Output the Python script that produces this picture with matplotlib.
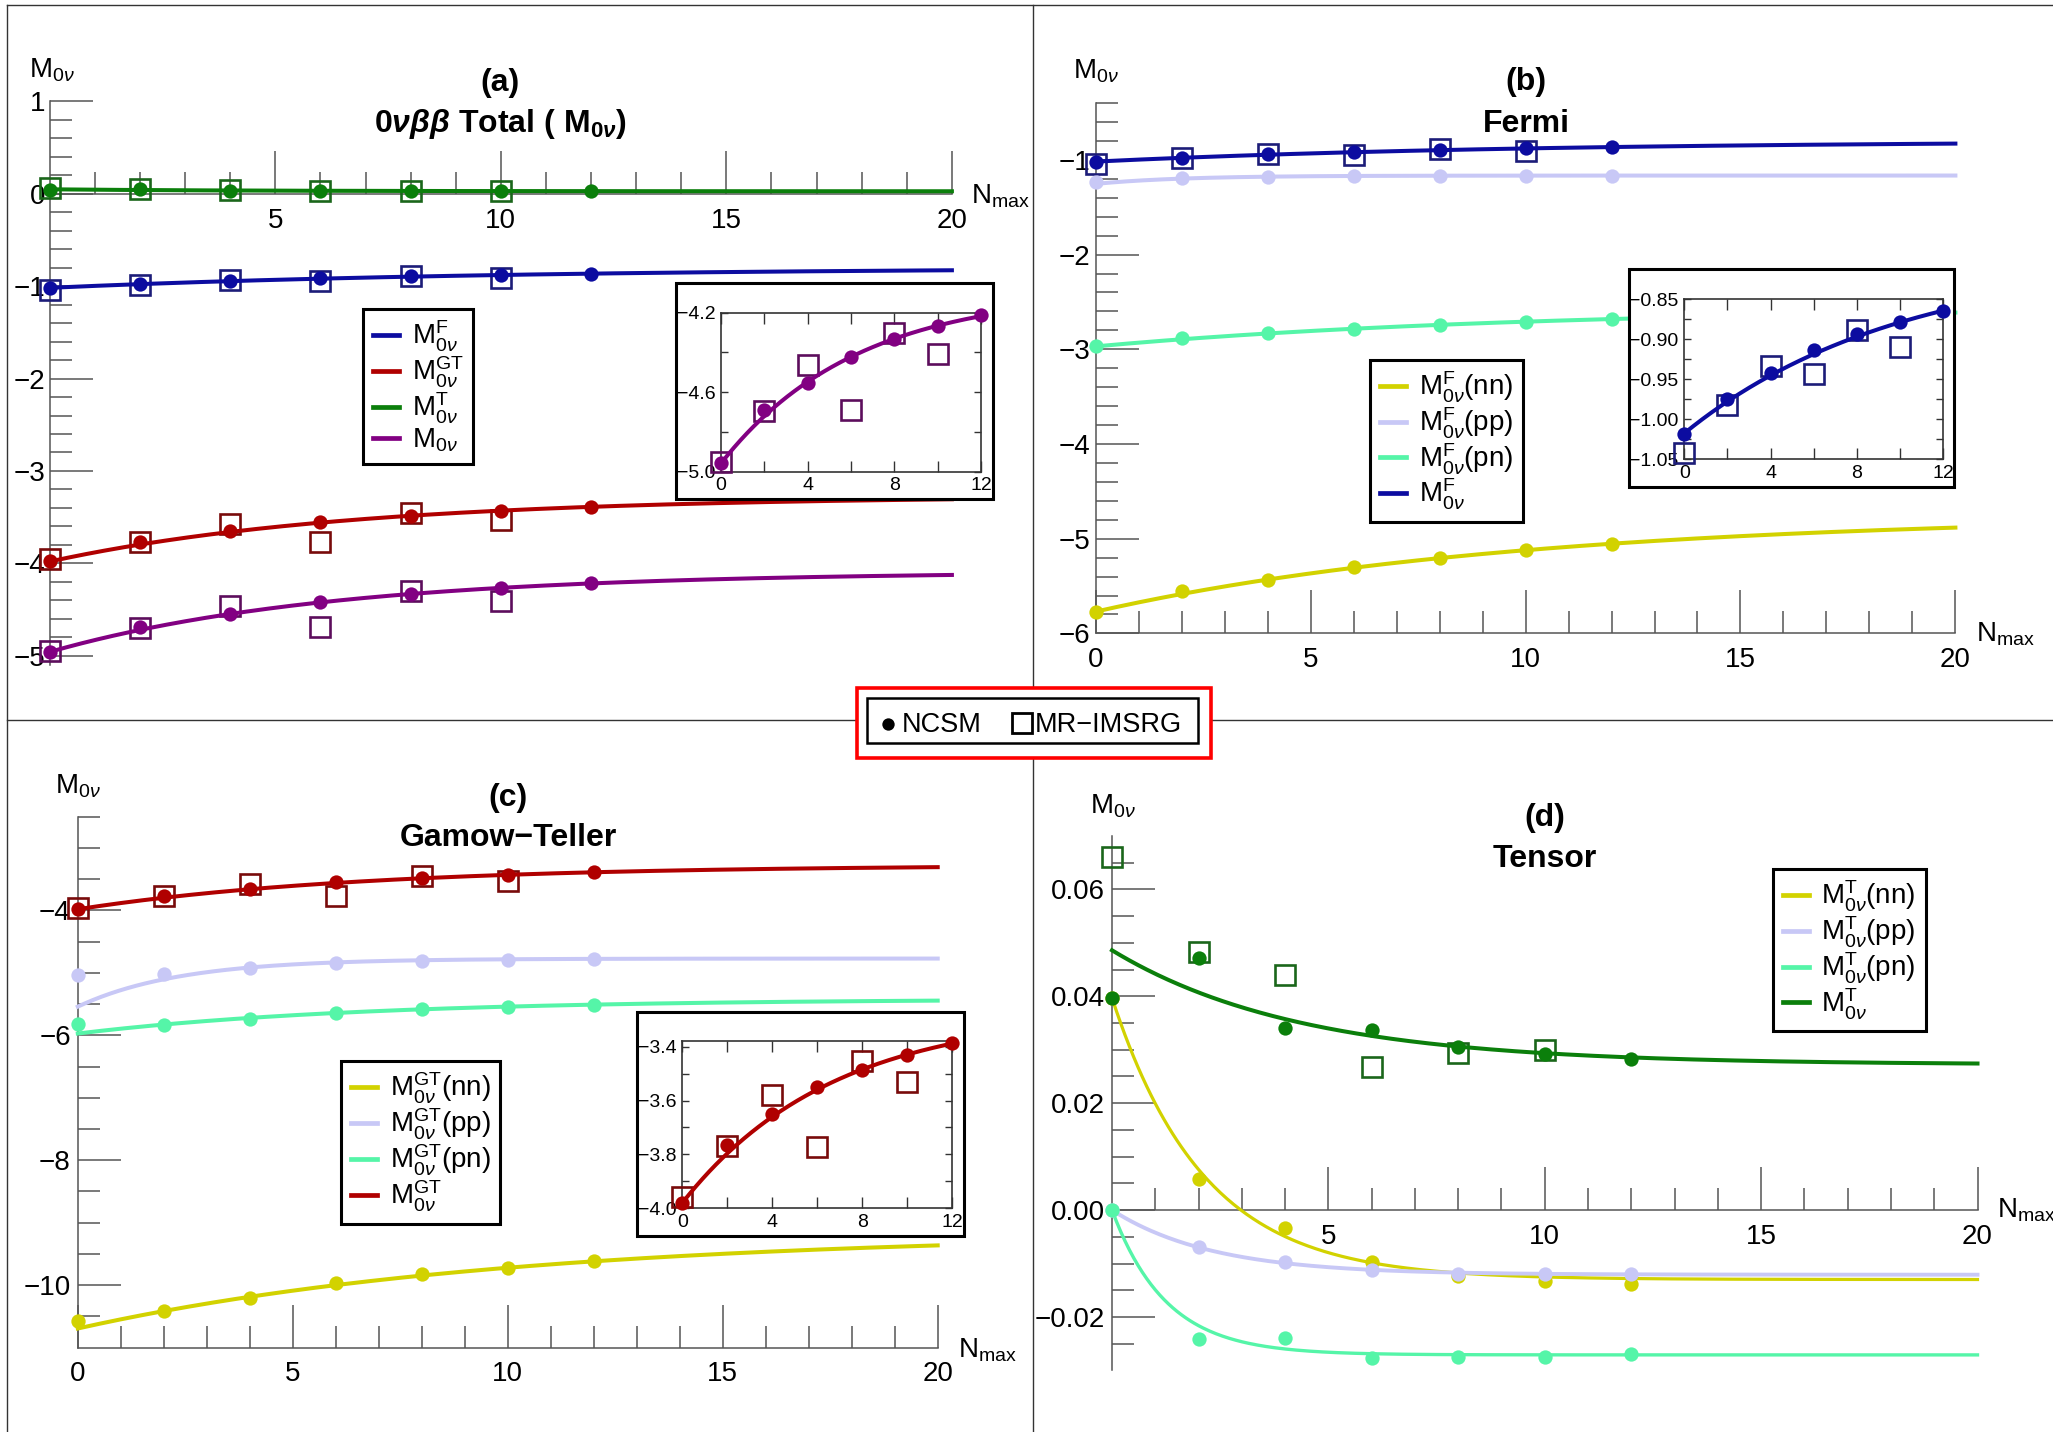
import numpy as np
import matplotlib
matplotlib.use("Agg")
import matplotlib.pyplot as plt
from matplotlib.lines import Line2D
from matplotlib.patches import Rectangle
from matplotlib.ticker import FixedLocator, FixedFormatter

plt.rcParams['font.family'] = ['Liberation Sans', 'DejaVu Sans']
plt.rcParams['mathtext.fontset'] = 'custom'
plt.rcParams['mathtext.rm'] = 'Liberation Sans'
plt.rcParams['mathtext.it'] = 'Liberation Sans:italic'
plt.rcParams['mathtext.bf'] = 'Liberation Sans:bold'
plt.rcParams['mathtext.bfit'] = 'Liberation Sans:italic:bold'

W, H = 2053, 1432

# ---------------- data ----------------
n_ncsm = [0, 2, 4, 6, 8, 10, 12]
n_imsrg = [0, 2, 4, 6, 8, 10]

# Fermi
f_nn = [-5.778, -5.556, -5.431, -5.298, -5.200, -5.120, -5.053]
f_pp = [-1.235, -1.190, -1.180, -1.175, -1.175, -1.175, -1.175]
f_pn = [-2.969, -2.880, -2.831, -2.782, -2.738, -2.707, -2.680]
f_tot = [-1.018, -0.975, -0.942, -0.913, -0.893, -0.878, -0.864]
f_tot_mr = [-1.042, -0.982, -0.933, -0.944, -0.888, -0.910]

# Gamow-Teller
gt_nn = [-10.576, -10.420, -10.208, -9.972, -9.826, -9.722, -9.618]
gt_pp = [-5.035, -5.020, -4.917, -4.847, -4.813, -4.790, -4.785]
gt_pn = [-5.820, -5.833, -5.736, -5.639, -5.583, -5.540, -5.507]
gt_tot = [-3.979, -3.766, -3.651, -3.551, -3.487, -3.431, -3.388]
gt_tot_mr = [-3.957, -3.769, -3.579, -3.774, -3.452, -3.530]

# Tensor
t_nn = [0.0397, 0.0058, -0.0034, -0.0097, -0.0123, -0.0133, -0.0139]
t_pp = [0.0, -0.0069, -0.0098, -0.0112, -0.0120, -0.0120, -0.0120]
t_pn = [0.0, -0.0242, -0.0239, -0.0276, -0.0274, -0.0274, -0.0270]
t_tot = [0.0397, 0.0472, 0.0341, 0.0337, 0.0305, 0.0292, 0.0282]
t_tot_mr = [0.0660, 0.0483, 0.0440, 0.0267, 0.0293, 0.0300]

# Total
m_tot = [-4.958, -4.688, -4.553, -4.421, -4.333, -4.269, -4.212]
m_tot_mr = [-4.949, -4.696, -4.463, -4.691, -4.300, -4.406]

# Extrapolation fits  M(N) = a + b * exp(-c N)   -> (a, b, c)
fit_f_nn = (-4.744, -1.026, 0.10)
fit_f_pp = (-1.165, -0.088, 0.50)
fit_f_pn = (-2.556, -0.413, 0.10)
fit_f_tot = (-0.798, -0.2195, 0.10)
fit_gt_nn = (-9.155, -1.539, 0.10)
fit_gt_pp = (-4.770, -0.770, 0.42)
fit_gt_pn = (-5.416, -0.5545, 0.15)
fit_gt_tot = (-3.271, -0.709, 0.15)
fit_t_nn = (-0.0130, 0.0527, 0.47)
fit_t_pp = (-0.0121, 0.0121, 0.43)
fit_t_pn = (-0.0271, 0.0271, 0.80)
fit_t_tot = (0.0272, 0.0214, 0.23)
fit_m_tot = (-4.090, -0.868, 0.16)

# ---------------- style ----------------
C_F, E_F = '#0c0ca0', '#1c1c78'
C_GT, E_GT = '#b00000', '#780a0a'
C_T, E_T = '#0b7f0b', '#1a661a'
C_TOT, E_TOT = '#820082', '#5c0d5c'
C_NN = '#d2d200'
C_PP = '#c8c8f6'
C_PN = '#55f5a8'
AX_C = '#555555'

fig = plt.figure(figsize=(W / 100, H / 100), dpi=100)


def rect_px(x0, x1, ytop, ybot):
    return [x0 / W, 1 - ybot / H, (x1 - x0) / W, (ybot - ytop) / H]


def fx(x):
    return x / W


def fy(y):
    return 1 - y / H


def fit_curve(p, n):
    a, b, c = p
    return a + b * np.exp(-c * n)


def series(ax, pts, color, fit, mr=None, mr_edge=None, nmax=20, lw=2.9, ms=10.3, sq=14.0):
    n = np.linspace(0, nmax, 400)
    if mr is not None:
        ax.plot(n_imsrg, mr, ls='none', marker='s', ms=sq, mfc='none',
                mec=mr_edge, mew=1.9, clip_on=False, zorder=3)
    ax.plot(n, fit_curve(fit, n), color=color, lw=lw, zorder=4, clip_on=False)
    ax.plot(n_ncsm, pts, ls='none', marker='o', ms=ms, mfc=color, mec=color,
            mew=0, clip_on=False, zorder=5)


def fmt_num(v, nd):
    s = f"{v:.{nd}f}"
    return s.replace('-', '\u2212')


def main_axes(rect, ylim, xaxis_y, ymaj, ymin, ynd, xmaj, xmin, ypad=4, xpad=10):
    ax = fig.add_axes(rect)
    ax.patch.set_visible(False)
    ax.set_xlim(0, 20)
    ax.set_ylim(*ylim)
    ax.spines['top'].set_visible(False)
    ax.spines['right'].set_visible(False)
    ax.spines['left'].set_position(('data', 0))
    ax.spines['bottom'].set_position(('data', xaxis_y))
    for s in ('left', 'bottom'):
        ax.spines[s].set_color(AX_C)
        ax.spines[s].set_linewidth(1.1)
    ax.yaxis.set_major_locator(FixedLocator(ymaj))
    ax.yaxis.set_minor_locator(FixedLocator(ymin))
    ax.yaxis.set_major_formatter(FixedFormatter([fmt_num(v, ynd) for v in ymaj]))
    ax.xaxis.set_major_locator(FixedLocator(xmaj))
    ax.xaxis.set_minor_locator(FixedLocator(xmin))
    ax.xaxis.set_major_formatter(FixedFormatter([str(v) for v in xmaj]))
    ax.tick_params(which='both', direction='in', color=AX_C, width=1.1,
                   labelsize=20, labelcolor='black')
    ax.tick_params(which='major', length=31)
    ax.tick_params(which='minor', length=15.5)
    ax.tick_params(axis='y', pad=ypad)
    ax.tick_params(axis='x', pad=xpad)
    return ax


def inset_axes(rect, box, ylim, ymaj, ymin, ynd):
    bx0, bx1, by0, by1 = box
    fig.add_artist(Rectangle((fx(bx0), fy(by1)), (bx1 - bx0) / W, (by1 - by0) / H,
                             transform=fig.transFigure, facecolor='white',
                             edgecolor='black', lw=2.2, zorder=1))
    ax = fig.add_axes(rect)
    ax.set_zorder(2)
    ax.set_xlim(0, 12)
    ax.set_ylim(*ylim)
    for s in ax.spines.values():
        s.set_color('#333333')
        s.set_linewidth(1.2)
    ax.xaxis.set_major_locator(FixedLocator([0, 4, 8, 12]))
    ax.xaxis.set_minor_locator(FixedLocator([2, 6, 10]))
    ax.yaxis.set_major_locator(FixedLocator(ymaj))
    ax.yaxis.set_minor_locator(FixedLocator(ymin))
    ax.yaxis.set_major_formatter(FixedFormatter([fmt_num(v, ynd) for v in ymaj]))
    ax.tick_params(which='both', direction='in', top=True, right=True,
                   color='#333333', width=1.0, labelsize=14)
    ax.tick_params(axis='x', which='both', length=8, pad=4)
    ax.tick_params(axis='y', which='both', length=5, pad=4)
    return ax


def legend(entries, left, top):
    handles = [Line2D([], [], color=c, lw=3.4) for c, _ in entries]
    labels = [l for _, l in entries]
    leg = fig.legend(handles, labels, loc='upper left',
                     bbox_to_anchor=(fx(left), fy(top)), bbox_transform=fig.transFigure,
                     frameon=True, fancybox=False, edgecolor='black', framealpha=1,
                     fontsize=20, handlelength=0.95, handletextpad=0.45,
                     borderpad=0.35, labelspacing=0.02, borderaxespad=0)
    leg.get_frame().set_linewidth(2.2)
    return leg


def axis_labels(xc, yb, nx, ny):
    fig.text(fx(xc), fy(yb), r'M$_{0\nu}$', ha='center', va='baseline', fontsize=20)
    fig.text(fx(nx), fy(ny), r'N$_{\rm max}$', ha='left', va='baseline', fontsize=20)


def titles(xc, y1, t1, y2, t2):
    fig.text(fx(xc), fy(y1), t1, ha='center', va='baseline', fontsize=23, fontweight='bold')
    fig.text(fx(xc), fy(y2), t2, ha='center', va='baseline', fontsize=23, fontweight='bold')


minors_x = [i for i in range(1, 20) if i % 5]

# ---------------- frame lines ----------------
for xs, ys in (([7, 7], [5, H]), ([7, W], [5, 5]), ([1033, 1033], [5, H]), ([7, W], [720, 720])):
    fig.add_artist(Line2D([fx(x) for x in xs], [fy(y) for y in ys],
                          transform=fig.transFigure, color='#333333', lw=1.0, zorder=0))

# ---------------- (a) total ----------------
ymin_a = [round(v, 1) for v in np.arange(-5.0, 1.0, 0.2) if abs(v - round(v)) > 1e-6]
ax = main_axes(rect_px(49.8, 951.9, 101.4, 665.0), (-5.1, 1.0), 0,
               list(range(-5, 2)), ymin_a, 0, [5, 10, 15, 20], minors_x, ypad=3)
series(ax, f_tot, C_F, fit_f_tot, f_tot_mr, E_F)
series(ax, gt_tot, C_GT, fit_gt_tot, gt_tot_mr, E_GT)
series(ax, t_tot, C_T, fit_t_tot, t_tot_mr, E_T)
series(ax, m_tot, C_TOT, fit_m_tot, m_tot_mr, E_TOT)
axis_labels(52, 77, 971, 204)
titles(500, 91, '(a)', 131.7,
       r'$\mathbf{0}\mathbfit{\nu\beta\beta}\ \mathbf{Total\ (\ M}_{\mathbf{0}\mathbfit{\nu}}\mathbf{)}$')
legend([(C_F, r'M$^{\rm F}_{0\nu}$'), (C_GT, r'M$^{\rm GT}_{0\nu}$'),
        (C_T, r'M$^{\rm T}_{0\nu}$'), (C_TOT, r'M$_{0\nu}$')], 363, 309.3)

ia = inset_axes(rect_px(721, 981, 312.7, 471.7), (676, 992.7, 282.7, 499.3),
                (-5.0, -4.2), [-5.0, -4.6, -4.2], [-4.8, -4.4], 1)
series(ia, m_tot, C_TOT, fit_m_tot, m_tot_mr, E_TOT, nmax=12)

# ---------------- (b) Fermi ----------------
ymin_b = [round(v, 1) for v in np.arange(-6.0, -0.3, 0.2) if abs(v - round(v)) > 1e-6]
bx = main_axes(rect_px(1095.7, 1955.4, 103.1, 633.4), (-6.0, -0.4), -6.0,
               list(range(-6, 0)), ymin_b, 0, [0, 5, 10, 15, 20], minors_x, ypad=4)
series(bx, f_nn, C_NN, fit_f_nn)
series(bx, f_pp, C_PP, fit_f_pp)
series(bx, f_pn, C_PN, fit_f_pn)
series(bx, f_tot, C_F, fit_f_tot, f_tot_mr, E_F)
axis_labels(1096, 78.7, 1976, 642)
titles(1526, 90, '(b)', 132, 'Fermi')
legend([(C_NN, r'M$^{\rm F}_{0\nu}$(nn)'), (C_PP, r'M$^{\rm F}_{0\nu}$(pp)'),
        (C_PN, r'M$^{\rm F}_{0\nu}$(pn)'), (C_F, r'M$^{\rm F}_{0\nu}$')], 1370, 359.9)

ib = inset_axes(rect_px(1684.3, 1943.3, 299.3, 459.3), (1629.3, 1954.3, 269.3, 486.7),
                (-1.05, -0.85), [-1.05, -1.00, -0.95, -0.90, -0.85],
                [-1.025, -0.975, -0.925, -0.875], 2)
series(ib, f_tot, C_F, fit_f_tot, f_tot_mr, E_F, nmax=12)

# ---------------- (c) Gamow-Teller ----------------
ymin_c = [v for v in np.arange(-10.5, -2.4, 0.5) if abs(v / 2 - round(v / 2)) > 1e-6]
cx = main_axes(rect_px(77.8, 937.7, 816.8, 1347.6), (-11.0, -2.5), -11.0,
               [-10, -8, -6, -4], ymin_c, 0, [0, 5, 10, 15, 20], minors_x, ypad=5)
series(cx, gt_nn, C_NN, fit_gt_nn)
series(cx, gt_pp, C_PP, fit_gt_pp)
series(cx, gt_pn, C_PN, fit_gt_pn)
series(cx, gt_tot, C_GT, fit_gt_tot, gt_tot_mr, E_GT)
axis_labels(78, 793, 957.5, 1357)
titles(508, 806, '(c)', 846, 'Gamow\u2212Teller')
legend([(C_NN, r'M$^{\rm GT}_{0\nu}$(nn)'), (C_PP, r'M$^{\rm GT}_{0\nu}$(pp)'),
        (C_PN, r'M$^{\rm GT}_{0\nu}$(pn)'), (C_GT, r'M$^{\rm GT}_{0\nu}$')], 341, 1061.4)

ic = inset_axes(rect_px(682.3, 952.3, 1041.3, 1208.3), (637.3, 964, 1011.7, 1236),
                (-4.0, -3.38), [-4.0, -3.8, -3.6, -3.4], [-3.9, -3.7, -3.5], 1)
series(ic, gt_tot, C_GT, fit_gt_tot, gt_tot_mr, E_GT, nmax=12)

# ---------------- (d) Tensor ----------------
ymin_d = [round(v, 3) for v in np.arange(-0.025, 0.0651, 0.005)
          if abs(v / 0.02 - round(v / 0.02)) > 1e-6]
dx = main_axes(rect_px(1112, 1977.5, 835.9, 1370.4), (-0.03, 0.07), 0,
               [-0.02, 0.0, 0.02, 0.04, 0.06], ymin_d, 2, [5, 10, 15, 20], minors_x, ypad=5)
series(dx, t_nn, C_NN, fit_t_nn, lw=2.3)
series(dx, t_pp, C_PP, fit_t_pp, lw=2.8)
series(dx, t_pn, C_PN, fit_t_pn, lw=2.4)
series(dx, t_tot, C_T, fit_t_tot, t_tot_mr, E_T)
axis_labels(1113, 813, 1997, 1218)
titles(1545, 826, '(d)', 867, 'Tensor')
legend([(C_NN, r'M$^{\rm T}_{0\nu}$(nn)'), (C_PP, r'M$^{\rm T}_{0\nu}$(pp)'),
        (C_PN, r'M$^{\rm T}_{0\nu}$(pn)'), (C_T, r'M$^{\rm T}_{0\nu}$')], 1772.8, 869)

# ---------------- method key ----------------
fig.add_artist(Rectangle((fx(857.3), fy(758.3)), 353.4 / W, 70 / H, transform=fig.transFigure,
                         facecolor='white', edgecolor='#ff0000', lw=2.6, zorder=6))
fig.add_artist(Rectangle((fx(867.3), fy(742.7)), 331 / W, 44.4 / H, transform=fig.transFigure,
                         facecolor='white', edgecolor='black', lw=1.8, zorder=7))
fig.add_artist(Line2D([fx(888.3)], [fy(724)], transform=fig.transFigure, marker='o', ms=8.9,
                      mfc='black', mec='black', mew=0, ls='none', zorder=8))
fig.add_artist(Line2D([fx(1021.7)], [fy(722.7)], transform=fig.transFigure, marker='s', ms=14.4,
                      mfc='none', mec='black', mew=2.0, ls='none', zorder=8))
fig.text(fx(902), fy(731.7), 'NCSM', ha='left', va='baseline', fontsize=19.5, zorder=8)
fig.text(fx(1035), fy(731.7), 'MR\u2212IMSRG', ha='left', va='baseline', fontsize=19.5, zorder=8)

fig.savefig('out.png', dpi=100)
